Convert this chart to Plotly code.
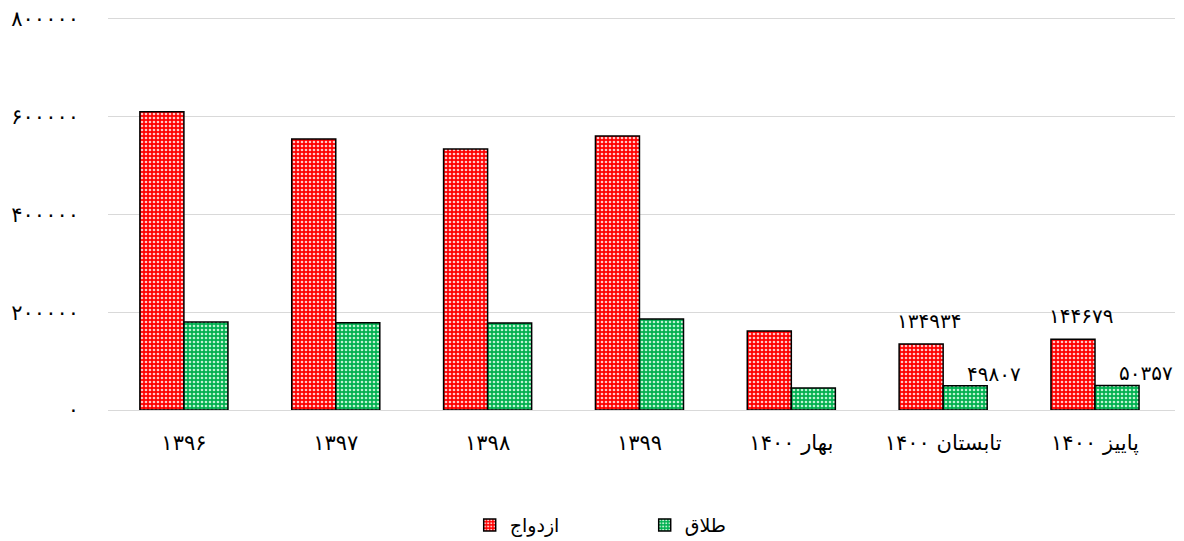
import plotly.graph_objects as go

categories = ["۱۳۹۶", "۱۳۹۷", "۱۳۹۸", "۱۳۹۹", "بهار ۱۴۰۰", "تابستان ۱۴۰۰", "پاییز ۱۴۰۰"]
marriage = [610000, 554500, 534000, 560500, 161500, 134934, 144679]
divorce = [180000, 178500, 178000, 186000, 45000, 49807, 50357]
labeled_idx = [5, 6]
tick_vals = [0, 200000, 400000, 600000, 800000]

FA = str.maketrans("0123456789", "۰۱۲۳۴۵۶۷۸۹")


def fa(n):
    return str(int(n)).translate(FA)


FONT = "DejaVu Sans"

fig = go.Figure()
fig.add_trace(go.Bar(
    name="ازدواج", x=categories, y=marriage,
    marker=dict(color="#ff0000", line=dict(color="black", width=1.5),
                pattern=dict(shape=".", fgcolor="#ffc8c8", bgcolor="#ff0000",
                             size=4, solidity=0.35, fillmode="replace")),
))
fig.add_trace(go.Bar(
    name="طلاق", x=categories, y=divorce,
    marker=dict(color="#00b050", line=dict(color="black", width=1.5),
                pattern=dict(shape=".", fgcolor="#c0f0d0", bgcolor="#00b050",
                             size=4, solidity=0.35, fillmode="replace")),
))

for i in labeled_idx:
    fig.add_annotation(x=categories[i], y=marriage[i], text=fa(marriage[i]),
                       showarrow=False, xshift=-14, yshift=23,
                       font=dict(family=FONT, size=20, color="black"))
    fig.add_annotation(x=categories[i], y=divorce[i], text=fa(divorce[i]),
                       showarrow=False, xshift=51, yshift=12,
                       font=dict(family=FONT, size=20, color="black"))

fig.update_layout(
    width=1176, height=533,
    margin=dict(l=100, r=9, t=8, b=131, autoexpand=False),
    paper_bgcolor="white", plot_bgcolor="white",
    barmode="group", bargap=0.42, bargroupgap=0,
    font=dict(family=FONT, size=20, color="black"),
    showlegend=True,
    legend=dict(orientation="h", x=0.503, xanchor="center", y=-0.292, yanchor="middle",
                font=dict(family=FONT, size=19), entrywidth=130, traceorder="normal"),
    xaxis=dict(showgrid=False, showline=True, linecolor="#d9d9d9", linewidth=1,
               ticks="", tickfont=dict(family=FONT, size=21), ticklabelstandoff=14,
               automargin=False),
    yaxis=dict(range=[0, 806000], tickvals=tick_vals, ticktext=[fa(v) for v in tick_vals],
               showgrid=True, gridcolor="#d9d9d9", gridwidth=1, zeroline=True,
               zerolinecolor="#d9d9d9", zerolinewidth=1, ticks="",
               tickfont=dict(family=FONT, size=21), ticklabelstandoff=28,
               ticklabeloverflow="allow", automargin=False),
)

fig.write_html("out.html")
